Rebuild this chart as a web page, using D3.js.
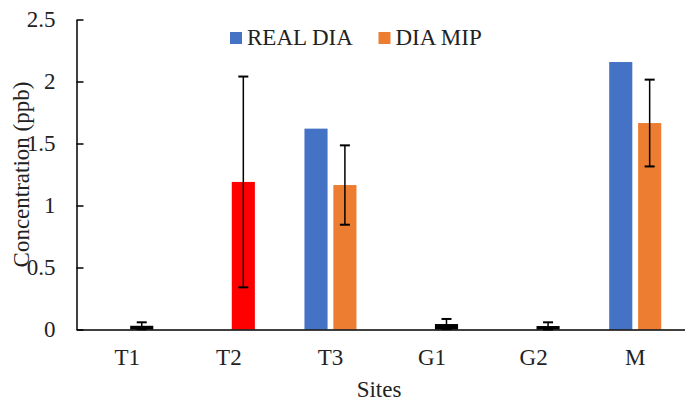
<!DOCTYPE html>
<html>
<head>
<meta charset="utf-8">
<script src="https://cdn.jsdelivr.net/npm/d3@7"></script>
<style>
  body { margin: 0; background: #fff; }
  svg { display: block; font-family: "Liberation Serif", "Times New Roman", serif; }
</style>
</head>
<body>
<div id="chart"></div>
<script>
// data
const sites = ["T1", "T2", "T3", "G1", "G2", "M"];
const realDia = [0, 0, 1.62, 0, 0, 2.157];
const diaMip = [0.03, 1.19, 1.165, 0.044, 0.028, 1.665];
const diaMipErr = [0.028, 0.85, 0.32, 0.041, 0.03, 0.35];
const seriesNames = ["REAL DIA", "DIA MIP"];
const yTicks = [0, 0.5, 1, 1.5, 2, 2.5];

// colours (MIP bars recoloured per site as in the original)
const blue = "#4472C4", orange = "#ED7D31";
const mipColors = ["#000000", "#FF0000", orange, "#000000", "#000000", orange];

const width = 685, height = 402;
const margin = {top: 19.5, right: 0, bottom: 72.5, left: 76.5};

const svg = d3.select("#chart").append("svg")
    .attr("width", width)
    .attr("height", height);

const x = d3.scaleBand()
    .domain(sites)
    .range([margin.left, 686])
    .paddingInner(0.488)
    .paddingOuter(0.244);

const xInner = d3.scaleBand()
    .domain(seriesNames)
    .range([0, x.bandwidth()])
    .paddingInner(0.2);

const y = d3.scaleLinear()
    .domain([0, 2.5])
    .range([height - margin.bottom, margin.top]);

// bars
const rows = sites.map((s, i) => ({site: s, i: i}));

svg.append("g").selectAll("rect")
    .data(rows.filter(d => realDia[d.i] > 0))
    .enter().append("rect")
    .attr("x", d => x(d.site) + xInner("REAL DIA"))
    .attr("width", xInner.bandwidth())
    .attr("y", d => y(realDia[d.i]))
    .attr("height", d => y(0) - y(realDia[d.i]))
    .attr("fill", blue);

svg.append("g").selectAll("rect")
    .data(rows)
    .enter().append("rect")
    .attr("x", d => x(d.site) + xInner("DIA MIP"))
    .attr("width", xInner.bandwidth())
    .attr("y", d => y(diaMip[d.i]))
    .attr("height", d => y(0) - y(diaMip[d.i]))
    .attr("fill", d => mipColors[d.i]);

// error bars
const err = svg.append("g").attr("stroke", "#000").attr("stroke-width", 1.5);
rows.forEach(d => {
  const cx = x(d.site) + xInner("DIA MIP") + xInner.bandwidth() / 2;
  const hi = y(diaMip[d.i] + diaMipErr[d.i]);
  const lo = y(Math.max(0, diaMip[d.i] - diaMipErr[d.i]));
  err.append("line").attr("x1", cx).attr("x2", cx).attr("y1", hi).attr("y2", lo);
  err.append("line").attr("x1", cx - 5).attr("x2", cx + 5).attr("y1", hi).attr("y2", hi).attr("stroke-width", 2);
  err.append("line").attr("x1", cx - 5).attr("x2", cx + 5).attr("y1", lo).attr("y2", lo).attr("stroke-width", 2);
});

// y axis (ticks point inward)
const yAxis = svg.append("g")
    .attr("transform", "translate(" + margin.left + ",0)")
    .call(d3.axisRight(y).tickValues(yTicks).tickFormat(d => d).tickSize(7).tickSizeOuter(0));
yAxis.select(".domain").attr("stroke", "#000").attr("stroke-width", 1.5);
yAxis.selectAll(".tick line").attr("stroke", "#000").attr("stroke-width", 1.5);
yAxis.selectAll(".tick text")
    .attr("x", -21)
    .attr("dy", "0.32em")
    .style("text-anchor", "end")
    .style("font-size", "23px")
    .style("font-family", "Liberation Serif")
    .attr("fill", "#222");

// x axis
const xAxis = svg.append("g")
    .attr("transform", "translate(0," + y(0) + ")")
    .call(d3.axisBottom(x).tickSize(0).tickSizeOuter(0));
xAxis.select(".domain").attr("stroke", "#000").attr("stroke-width", 1.5);
xAxis.selectAll(".tick text")
    .attr("y", 35.5)
    .attr("dy", 0)
    .style("font-size", "23px")
    .style("font-family", "Liberation Serif")
    .attr("fill", "#222");

// axis titles
svg.append("text")
    .attr("x", 379)
    .attr("y", 397)
    .attr("text-anchor", "middle")
    .style("font-size", "23px")
    .attr("fill", "#222")
    .text("Sites");

svg.append("text")
    .attr("transform", "translate(29," + (y(1.25)) + ") rotate(-90)")
    .attr("text-anchor", "middle")
    .style("font-size", "23px")
    .attr("fill", "#222")
    .text("Concentration (ppb)");

// legend
const legendX = [230, 378.5];
const legend = svg.selectAll(".legend")
    .data(seriesNames)
    .enter().append("g")
    .attr("class", "legend")
    .attr("transform", (d, i) => "translate(" + legendX[i] + ",32)");

legend.append("rect")
    .attr("width", 12)
    .attr("height", 12)
    .attr("fill", (d, i) => i === 0 ? blue : orange);

legend.append("text")
    .attr("x", 17)
    .attr("y", 13)
    .style("font-size", "23px")
    .attr("fill", "#222")
    .text(d => d);
</script>
</body>
</html>
